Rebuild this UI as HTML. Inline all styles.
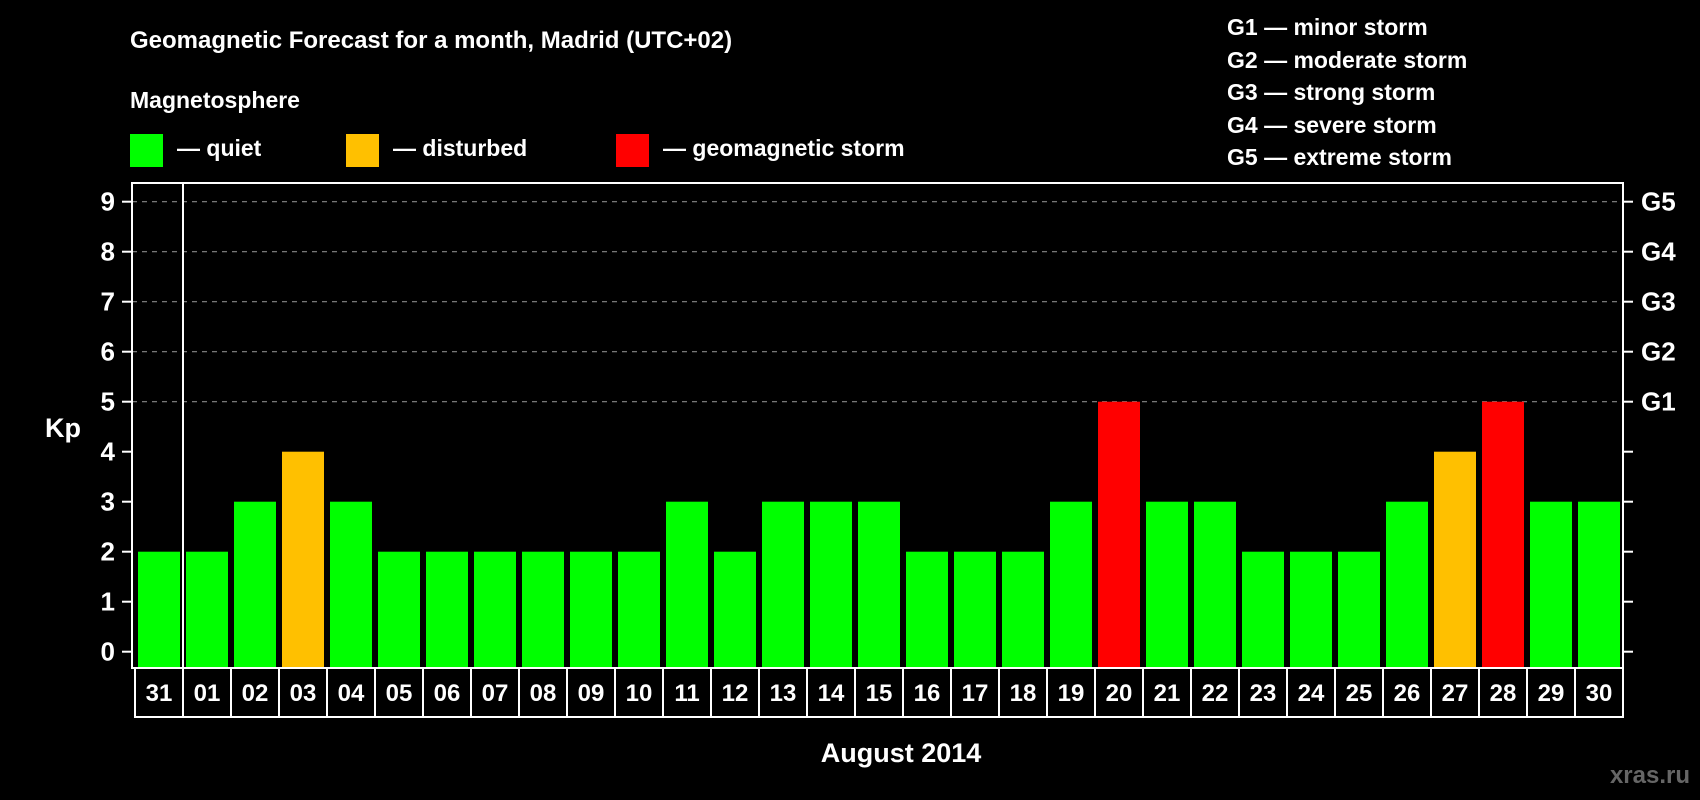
<!DOCTYPE html>
<html><head><meta charset="utf-8"><style>
html,body{margin:0;padding:0;background:#000;}
svg{display:block;font-family:"Liberation Sans",Arial,sans-serif;font-weight:bold;}
</style></head><body>
<svg id="chart" width="1700" height="800" viewBox="0 0 1700 800" xmlns="http://www.w3.org/2000/svg">
<rect width="1700" height="800" fill="#000"/>
<text x="130" y="48" fill="#fff" font-size="24">Geomagnetic Forecast for a month, Madrid (UTC+02)</text>
<text x="130" y="108" fill="#fff" font-size="23">Magnetosphere</text>
<g><rect x="130" y="134" width="33" height="33" fill="#00ff00"/><text x="177" y="156" fill="#fff" font-size="23">— quiet</text></g>
<g><rect x="346" y="134" width="33" height="33" fill="#ffc000"/><text x="393" y="156" fill="#fff" font-size="23">— disturbed</text></g>
<g><rect x="616" y="134" width="33" height="33" fill="#ff0000"/><text x="663" y="156" fill="#fff" font-size="23">— geomagnetic storm</text></g>
<g fill="#fff" font-size="23">
<text x="1227" y="35">G1 — minor storm</text>
<text x="1227" y="68">G2 — moderate storm</text>
<text x="1227" y="100">G3 — strong storm</text>
<text x="1227" y="133">G4 — severe storm</text>
<text x="1227" y="165">G5 — extreme storm</text>
</g>
<g id="grid"></g>
<g id="bars"></g>
<g id="axes"></g>
<text x="63" y="437" fill="#fff" font-size="27" text-anchor="middle">Kp</text>
<text x="901" y="762" fill="#fff" font-size="27" text-anchor="middle">August 2014</text>
<text x="1690" y="783" fill="#666" font-size="24" text-anchor="end">xras.ru</text>
</svg>
<script>
const days = ["31","01","02","03","04","05","06","07","08","09","10","11","12","13","14","15","16","17","18","19","20","21","22","23","24","25","26","27","28","29","30"];
const kpValues = [2,2,3,4,3,2,2,2,2,2,2,3,2,3,3,3,2,2,2,3,5,3,3,2,2,2,3,4,5,3,3];
const yTicks = [0,1,2,3,4,5,6,7,8,9];
const gLabels = ["G1","G2","G3","G4","G5"];
const gLevels = [5,6,7,8,9];

const NS="http://www.w3.org/2000/svg";
const L=132,R=1623,T=183,B=668,step=48,x0=138,bw=42;
const yS=v=>651.7-v*50;
const xS=i=>x0+i*step;
function mk(tag,attrs,parent,txt){const e=document.createElementNS(NS,tag);for(const k in attrs)e.setAttribute(k,attrs[k]);if(txt!==undefined)e.textContent=txt;parent.appendChild(e);return e;}
const grid=document.getElementById('grid'),bars=document.getElementById('bars'),axes=document.getElementById('axes');
gLevels.forEach(v=>{
 const l=mk('line',{x1:L,x2:R,y1:yS(v),y2:yS(v),stroke:'#888','stroke-width':1.2,'stroke-dasharray':'5,5'},grid);
 
 
});
kpValues.forEach((v,i)=>{
 const c=v>=5?'#ff0000':(v>=4?'#ffc000':'#00ff00');
 const r=mk('rect',{x:xS(i),y:yS(v),width:bw,height:B-yS(v),fill:c},bars);
 
 
});
const frame=mk('rect',{x:L,y:T,width:R-L,height:B-T,fill:'none',stroke:'#fff','stroke-width':2},axes);


const sep=mk('line',{x1:183,x2:183,y1:T,y2:B,stroke:'#fff','stroke-width':2},axes);


yTicks.forEach(v=>{
 mk('line',{x1:122,x2:L,y1:yS(v),y2:yS(v),stroke:'#fff','stroke-width':2},axes);
 mk('line',{x1:R,x2:R+10,y1:yS(v),y2:yS(v),stroke:'#fff','stroke-width':2},axes);
 const t=mk('text',{x:115,y:yS(v)+9,fill:'#fff','font-size':26,'text-anchor':'end'},axes,String(v));
 
 
});
gLevels.forEach((v,i)=>{
 const t=mk('text',{x:1641,y:yS(v)+9,fill:'#fff','font-size':26},axes,gLabels[i]);
 
 
});
const xl0=135, xl1=R;
const box=mk('rect',{x:xl0,y:B,width:xl1-xl0,height:717-B,fill:'none',stroke:'#fff','stroke-width':2},axes);


days.forEach((d,i)=>{
 if(i>0) mk('line',{x1:xS(i)-3,x2:xS(i)-3,y1:B,y2:717,stroke:'#fff','stroke-width':2},axes);
 const t=mk('text',{x:xS(i)+bw/2,y:701,fill:'#fff','font-size':24,'text-anchor':'middle'},axes,d);
 
 
});
</script>
</body></html>
